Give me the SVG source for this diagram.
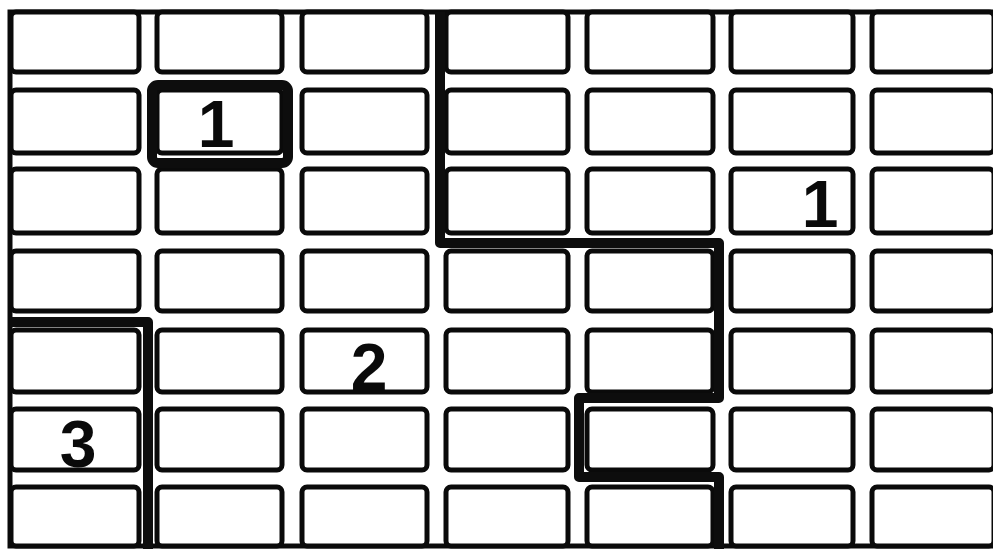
<svg xmlns="http://www.w3.org/2000/svg" width="993" height="549" viewBox="0 0 993 549">
<style>
.cell{fill:#fff;stroke:#0a0a0a;stroke-width:5}
.frame{fill:none;stroke:#0a0a0a;stroke-width:5}
.bound{fill:none;stroke:#0d0d0d;stroke-width:10;stroke-linejoin:round}
.lbl{font-family:"Liberation Sans",Arial,sans-serif;font-weight:bold;font-size:66px;fill:#0a0a0a;text-anchor:middle}
</style>
<rect width="993" height="549" fill="#fff"/>
<g id="frame"><path class="frame" d="M993 12 H10 V546 H993"/></g>
<g id="r1">
<g id="c1-1"><rect class="cell" x="11" y="12" width="128" height="60" rx="5"/></g>
<g id="c1-2"><rect class="cell" x="157" y="12" width="125" height="60" rx="5"/></g>
<g id="c1-3"><rect class="cell" x="302" y="12" width="125" height="60" rx="5"/></g>
<g id="c1-4"><rect class="cell" x="446" y="12" width="122" height="60" rx="5"/></g>
<g id="c1-5"><rect class="cell" x="587" y="12" width="126" height="60" rx="5"/></g>
<g id="c1-6"><rect class="cell" x="731" y="12" width="122" height="60" rx="5"/></g>
<g id="c1-7"><rect class="cell" x="872" y="12" width="122" height="60" rx="5"/></g>
</g>
<g id="r2">
<g id="c2-1"><rect class="cell" x="11" y="90" width="128" height="63" rx="5"/></g>
<g id="c2-2"><rect class="cell" x="157" y="90" width="125" height="63" rx="5"/><text class="lbl" x="216" y="147">1</text></g>
<g id="c2-3"><rect class="cell" x="302" y="90" width="125" height="63" rx="5"/></g>
<g id="c2-4"><rect class="cell" x="446" y="90" width="122" height="63" rx="5"/></g>
<g id="c2-5"><rect class="cell" x="587" y="90" width="126" height="63" rx="5"/></g>
<g id="c2-6"><rect class="cell" x="731" y="90" width="122" height="63" rx="5"/></g>
<g id="c2-7"><rect class="cell" x="872" y="90" width="122" height="63" rx="5"/></g>
</g>
<g id="r3">
<g id="c3-1"><rect class="cell" x="11" y="169" width="128" height="64" rx="5"/></g>
<g id="c3-2"><rect class="cell" x="157" y="169" width="125" height="64" rx="5"/></g>
<g id="c3-3"><rect class="cell" x="302" y="169" width="125" height="64" rx="5"/></g>
<g id="c3-4"><rect class="cell" x="446" y="169" width="122" height="64" rx="5"/></g>
<g id="c3-5"><rect class="cell" x="587" y="169" width="126" height="64" rx="5"/></g>
<g id="c3-6"><rect class="cell" x="731" y="169" width="122" height="64" rx="5"/><text class="lbl" x="820" y="227">1</text></g>
<g id="c3-7"><rect class="cell" x="872" y="169" width="122" height="64" rx="5"/></g>
</g>
<g id="r4">
<g id="c4-1"><rect class="cell" x="11" y="251" width="128" height="60" rx="5"/></g>
<g id="c4-2"><rect class="cell" x="157" y="251" width="125" height="60" rx="5"/></g>
<g id="c4-3"><rect class="cell" x="302" y="251" width="125" height="60" rx="5"/></g>
<g id="c4-4"><rect class="cell" x="446" y="251" width="122" height="60" rx="5"/></g>
<g id="c4-5"><rect class="cell" x="587" y="251" width="126" height="60" rx="5"/></g>
<g id="c4-6"><rect class="cell" x="731" y="251" width="122" height="60" rx="5"/></g>
<g id="c4-7"><rect class="cell" x="872" y="251" width="122" height="60" rx="5"/></g>
</g>
<g id="r5">
<g id="c5-1"><rect class="cell" x="11" y="330" width="128" height="62" rx="5"/></g>
<g id="c5-2"><rect class="cell" x="157" y="330" width="125" height="62" rx="5"/></g>
<g id="c5-3"><rect class="cell" x="302" y="330" width="125" height="62" rx="5"/><text class="lbl" x="369" y="390">2</text></g>
<g id="c5-4"><rect class="cell" x="446" y="330" width="122" height="62" rx="5"/></g>
<g id="c5-5"><rect class="cell" x="587" y="330" width="126" height="62" rx="5"/></g>
<g id="c5-6"><rect class="cell" x="731" y="330" width="122" height="62" rx="5"/></g>
<g id="c5-7"><rect class="cell" x="872" y="330" width="122" height="62" rx="5"/></g>
</g>
<g id="r6">
<g id="c6-1"><rect class="cell" x="11" y="409" width="128" height="61" rx="5"/><text class="lbl" x="78" y="467">3</text></g>
<g id="c6-2"><rect class="cell" x="157" y="409" width="125" height="61" rx="5"/></g>
<g id="c6-3"><rect class="cell" x="302" y="409" width="125" height="61" rx="5"/></g>
<g id="c6-4"><rect class="cell" x="446" y="409" width="122" height="61" rx="5"/></g>
<g id="c6-5"><rect class="cell" x="587" y="409" width="126" height="61" rx="5"/></g>
<g id="c6-6"><rect class="cell" x="731" y="409" width="122" height="61" rx="5"/></g>
<g id="c6-7"><rect class="cell" x="872" y="409" width="122" height="61" rx="5"/></g>
</g>
<g id="r7">
<g id="c7-1"><rect class="cell" x="11" y="487" width="128" height="59" rx="5"/></g>
<g id="c7-2"><rect class="cell" x="157" y="487" width="125" height="59" rx="5"/></g>
<g id="c7-3"><rect class="cell" x="302" y="487" width="125" height="59" rx="5"/></g>
<g id="c7-4"><rect class="cell" x="446" y="487" width="122" height="59" rx="5"/></g>
<g id="c7-5"><rect class="cell" x="587" y="487" width="126" height="59" rx="5"/></g>
<g id="c7-6"><rect class="cell" x="731" y="487" width="122" height="59" rx="5"/></g>
<g id="c7-7"><rect class="cell" x="872" y="487" width="122" height="59" rx="5"/></g>
</g>
<g id="boundaries">
<rect class="bound" x="152" y="85" width="136" height="78" rx="6"/>
<path class="bound" d="M440 12 V243 H719 V398 H579 V477 H719 V549"/>
<path class="bound" d="M10 322 H148 V549"/>
</g>
</svg>
